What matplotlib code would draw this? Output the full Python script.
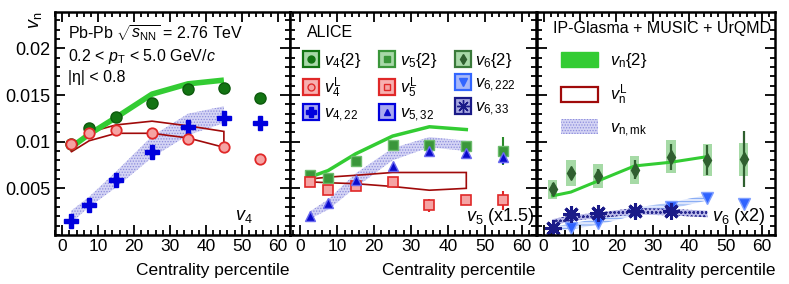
#!/usr/bin/env python3

import numpy as np
import matplotlib
matplotlib.use("Agg")
import matplotlib.pyplot as plt
from matplotlib.lines import Line2D
from matplotlib.patches import Patch
from matplotlib.legend_handler import HandlerTuple
from matplotlib.ticker import MultipleLocator, FixedLocator, FuncFormatter

plt.rcParams['font.family'] = ['Liberation Sans', 'DejaVu Sans']
plt.rcParams['mathtext.fontset'] = 'custom'
plt.rcParams['mathtext.rm'] = 'Liberation Sans'
plt.rcParams['mathtext.it'] = 'Liberation Sans:italic'
plt.rcParams['hatch.linewidth'] = 0.6

# centrality bins
cent = [2.5, 7.5, 15, 25, 35, 45, 55]
cent_m = [2.5, 7.5, 15, 25, 35, 45]      # model points

# ---- v4 panel ----
v4_2 = [0.0098, 0.0115, 0.0127, 0.0142, 0.0156, 0.0158, 0.0147]
v4_2_err = [0, 0, 0, 0, 0, 0, 0.0004]
v4_L = [0.0097, 0.0109, 0.0112, 0.0109, 0.0103, 0.0094, 0.0081]
v4_L_err = [0, 0, 0, 0, 0, 0, 0.0005]
v4_22 = [0.0015, 0.0032, 0.0059, 0.0089, 0.0116, 0.0125, 0.0120]
m_v4_2 = [0.0094, 0.0108, 0.0126, 0.0151, 0.0162, 0.0166]
m_v4_L_hi = [0.0091, 0.0110, 0.0118, 0.0122, 0.0117, 0.0111]
m_v4_L_lo = [0.0089, 0.0101, 0.0109, 0.0109, 0.0104, 0.0094]
m_v4_mk_hi = [0.0026, 0.0041, 0.0068, 0.0106, 0.0130, 0.0138]
m_v4_mk_lo = [0.0013, 0.0030, 0.0051, 0.0083, 0.0107, 0.0120]

# ---- v5 panel (x1.5) ----
v5_2 = [0.0064, 0.0061, 0.0079, 0.0096, 0.0096, 0.0095, 0.0090]
v5_2_err = [0, 0, 0, 0, 0, 0, 0.0015]
v5_L = [0.0057, 0.0048, 0.0052, 0.0057, 0.0032, 0.0037, 0.0037]
v5_L_err = [0, 0, 0, 0, 0.0007, 0.0004, 0.0010]
v5_32 = [0.0020, 0.0034, 0.0059, 0.0074, 0.0090, 0.0088, 0.0084]
v5_32_err = [0, 0, 0, 0, 0, 0, 0.0008]
m_v5_2 = [0.0062, 0.0069, 0.0087, 0.0106, 0.0116, 0.0113]
m_v5_L_hi = [0.0060, 0.0062, 0.0064, 0.0067, 0.0067, 0.0067]
m_v5_L_lo = [0.0057, 0.0056, 0.0055, 0.0052, 0.0048, 0.0050]
m_v5_mk_hi = [0.0025, 0.0038, 0.0066, 0.0093, 0.0105, 0.0101]
m_v5_mk_lo = [0.0017, 0.0027, 0.0051, 0.0080, 0.0094, 0.0090]

# ---- v6 panel (x2) ----
v6_2 = [0.0049, 0.0066, 0.0063, 0.0070, 0.0084, 0.0080, 0.0081]
v6_2_stat = [0.0007, 0.0004, 0.0008, 0.0010, 0.0014, 0.0016, 0.0030]
v6_2_syst = [0.0010, 0.0014, 0.0013, 0.0015, 0.0018, 0.0017, 0.0018]
cent_222 = [7.5, 15, 25, 35, 45, 55]
v6_222 = [0.0007, 0.0013, 0.0024, 0.0030, 0.0040, 0.0033]
cent_33 = [2.5, 7.5, 15, 25, 35]
v6_33 = [0.0008, 0.0022, 0.0024, 0.0026, 0.0026]
m_v6_2 = [0.0042, 0.0046, 0.0058, 0.0074, 0.0078, 0.0084]
m_v6_33_hi = [0.0017, 0.0021, 0.0024, 0.0029, 0.0028, 0.0026]
m_v6_33_lo = [0.0010, 0.0015, 0.0018, 0.0022, 0.0021, 0.0019]
m_v6_222_hi = [0.0009, 0.0012, 0.0018, 0.0029, 0.0035, 0.0043]
m_v6_222_lo = [0.0004, 0.0006, 0.0011, 0.0021, 0.0028, 0.0037]

xticks = [0, 10, 20, 30, 40, 50, 60]
yticks = [0.005, 0.01, 0.015, 0.02]

LIME = '#33cc33'
DRED = '#a00a0a'
RED = '#e02828'
PINK = '#f5a3a3'
BLUE = '#0000dd'


def style_axis(ax, xlim, show_y):
    ax.set_xlim(*xlim)
    ax.set_ylim(0, 0.0239)
    ax.xaxis.set_major_locator(FixedLocator(xticks))
    ax.xaxis.set_minor_locator(MultipleLocator(2))
    ax.yaxis.set_major_locator(FixedLocator(yticks))
    ax.yaxis.set_minor_locator(MultipleLocator(0.001))
    ax.yaxis.set_major_formatter(FuncFormatter(lambda v, p: '%g' % v))
    ax.tick_params(which='both', direction='in', top=True, right=True,
                   width=1.3, labelsize=12.5, pad=3)
    ax.tick_params(which='major', length=7)
    ax.tick_params(which='minor', length=3.5)
    ax.tick_params(axis='y', labelsize=13)
    if not show_y:
        ax.tick_params(axis='y', labelleft=False)
    for s in ax.spines.values():
        s.set_linewidth(1.8)
    ax.set_xlabel('Centrality percentile', fontsize=12.5, ha='right', x=1.0,
                  labelpad=6)


def band_outline(ax, x, hi, lo, color):
    ax.fill(np.concatenate([x, x[::-1]]), np.concatenate([hi, lo[::-1]]),
            facecolor='none', edgecolor=color, lw=1.2)


def hatched(ax, x, hi, lo, face, edge, hatch='......'):
    ax.fill_between(x, lo, hi, facecolor=face, edgecolor=edge, hatch=hatch,
                    lw=0)


def panel_v4(ax):
    x = np.array(cent_m)
    hatched(ax, x, np.array(m_v4_mk_hi), np.array(m_v4_mk_lo), '#d4d4f4', '#8c8cdc')
    band_outline(ax, x, np.array(m_v4_L_hi), np.array(m_v4_L_lo), DRED)
    ax.plot(x, m_v4_2, color=LIME, lw=4, solid_capstyle='butt')
    ax.errorbar(cent, v4_2, yerr=v4_2_err, fmt='o', ms=8, color='#137413',
                mec='#0d5a0d', elinewidth=1.5)
    ax.errorbar(cent, v4_L, yerr=v4_L_err, fmt='o', ms=7.5, mfc=PINK,
                mec=RED, mew=1.3, color=RED, elinewidth=1.5)
    ax.plot(cent, v4_22, 'P', ms=10, color=BLUE, mec=BLUE)

    kw = dict(transform=ax.transAxes, fontsize=11.5, ha='left', va='center')
    ax.text(0.055, 0.906, r'Pb-Pb $\sqrt{s_{\mathrm{NN}}}$ = 2.76 TeV', **kw)
    ax.text(0.055, 0.80, r'0.2 < $p_{\mathrm{T}}$ < 5.0 GeV/$c$', **kw)
    ax.text(0.055, 0.705, '|η| < 0.8', **kw)
    ax.text(0.765, 0.085, r'$v_4$', transform=ax.transAxes, fontsize=13,
            ha='left', va='center')


def panel_v5(ax):
    x = np.array(cent_m)
    hatched(ax, x, np.array(m_v5_mk_hi), np.array(m_v5_mk_lo), '#d4d4f4', '#8c8cdc')
    band_outline(ax, x, np.array(m_v5_L_hi), np.array(m_v5_L_lo), DRED)
    ax.plot(x, m_v5_2, color=LIME, lw=2.5)
    ax.errorbar(cent, v5_2, yerr=v5_2_err, fmt='s', ms=7.5, color='#3a963a',
                mec='#6cbc6c', elinewidth=1.5, ecolor='#2a8a2a')
    ax.errorbar(cent, v5_L, yerr=v5_L_err, fmt='s', ms=7, mfc=PINK,
                mec=RED, mew=1.2, color=RED, elinewidth=1.5)
    ax.errorbar(cent, v5_32, yerr=v5_32_err, fmt='^', ms=7.5, color='#0a0acc',
                mec='#6a6aee', elinewidth=1.5)

    ax.text(0.07, 0.906, 'ALICE', transform=ax.transAxes, fontsize=11.5,
            ha='left', va='center')
    ax.text(0.995, 0.085, r'$v_5$ (x1.5)', transform=ax.transAxes,
            fontsize=13, ha='right', va='center')

    def entry(marker, mfc, mec, boxface, boxedge, ms=5):
        box = Line2D([], [], ls='none', marker='s', ms=11, mfc=boxface,
                     mec=boxedge, mew=1.6)
        mk = Line2D([], [], ls='none', marker=marker, ms=ms, mfc=mfc, mec=mec,
                    mew=1.0)
        return (box, mk)

    handles = [
        entry('o', '#137413', '#137413', '#a8d8a8', '#137413'),
        entry('o', PINK, RED, '#f7b0b0', RED),
        entry('P', BLUE, BLUE, '#a8a8f0', BLUE, 7),
        entry('s', '#3a963a', '#3a963a', '#a8d8a8', '#3a963a', 4.5),
        entry('s', PINK, RED, '#f7b0b0', RED, 5),
        entry('^', '#0a0acc', '#0a0acc', '#a8a8f0', BLUE, 5),
        entry('d', '#2f5f2f', '#2f5f2f', '#a8d8a8', '#3a7a3a', 5),
        entry('v', '#3366ff', '#3366ff', '#a8b8f8', '#3366ff', 6),
        entry((8, 2, 0), '#1a1a88', '#1a1a88', '#a8a8e0', '#1a1a88', 9),
    ]
    labels = [r'$v_4\{2\}$', r'$v_4^{\mathrm{L}}$', r'$v_{4,22}$',
              r'$v_5\{2\}$', r'$v_5^{\mathrm{L}}$', r'$v_{5,32}$',
              r'$v_6\{2\}$', r'$v_{6,222}$', r'$v_{6,33}$']
    ax.legend(handles, labels, ncol=3, loc='upper left',
              bbox_to_anchor=(0.06, 0.825), frameon=False, fontsize=12,
              handler_map={tuple: HandlerTuple(ndivide=1)},
              handlelength=0.8, handletextpad=0.35, columnspacing=1.15,
              labelspacing=0.35, borderpad=0.0, borderaxespad=0.0)


def panel_v6(ax):
    x = np.array(cent_m)
    hatched(ax, x, np.array(m_v6_222_hi), np.array(m_v6_222_lo), '#e0e8fc', '#6f9cf2', '-----')
    hatched(ax, x, np.array(m_v6_33_hi), np.array(m_v6_33_lo), '#b8b8e8', '#2a2a90', 'oooo')
    ax.bar(cent, [2 * s for s in v6_2_syst],
           bottom=[v - s for v, s in zip(v6_2, v6_2_syst)],
           width=2.6, color='#97d497', lw=0, alpha=0.85)
    ax.plot(x, m_v6_2, color=LIME, lw=2.2)
    ax.errorbar(cent, v6_2, yerr=v6_2_stat, fmt='d', ms=7, color='#2f5f2f',
                elinewidth=1.6)
    ax.plot(cent_222, v6_222, 'v', ms=8, color='#2f63ff', mec='#7f9fff')
    ax.plot(cent_33, v6_33, marker=(8, 2, 0), ls='none', ms=12, mew=2.2,
            color='#1a1a88')

    ax.text(0.067, 0.928, 'IP-Glasma + MUSIC + UrQMD', transform=ax.transAxes,
            fontsize=11.5, ha='left', va='center')
    ax.text(0.96, 0.085, r'$v_6$ (x2)', transform=ax.transAxes,
            fontsize=13, ha='right', va='center')

    handles = [Patch(facecolor=LIME, edgecolor=LIME),
               Patch(facecolor='white', edgecolor=DRED, lw=1.6),
               Patch(facecolor='#d4d4f4', edgecolor='#8c8cdc', hatch='......', lw=0)]
    labels = [r'$v_{\mathrm{n}}\{2\}$', r'$v_{\mathrm{n}}^{\mathrm{L}}$',
              r'$v_{\mathrm{n,mk}}$']
    ax.legend(handles, labels, loc='upper left', bbox_to_anchor=(0.06, 0.87),
              frameon=False, fontsize=12, handlelength=2.2, handleheight=1.0,
              handletextpad=0.7, labelspacing=0.75, borderpad=0.1)


def main():
    fig = plt.figure(figsize=(7.89, 2.84), dpi=100)

    def rect(l, r):
        return [l / 789, (284 - 235) / 284, (r - l) / 789, 223 / 284]

    ax1 = fig.add_axes(rect(55, 290))
    ax2 = fig.add_axes(rect(290, 536))
    ax3 = fig.add_axes(rect(537, 775))

    panel_v4(ax1)
    panel_v5(ax2)
    panel_v6(ax3)
    style_axis(ax1, (-2, 63.4), True)
    style_axis(ax2, (-2.8, 63.9), False)
    style_axis(ax3, (-1.8, 63.6), False)

    fig.text(0.045, 0.93, r'$v_{\mathrm{n}}$', rotation=90, fontsize=13,
             ha='center', va='center')
    fig.savefig('out.png', dpi=100)


if __name__ == '__main__':
    main()
